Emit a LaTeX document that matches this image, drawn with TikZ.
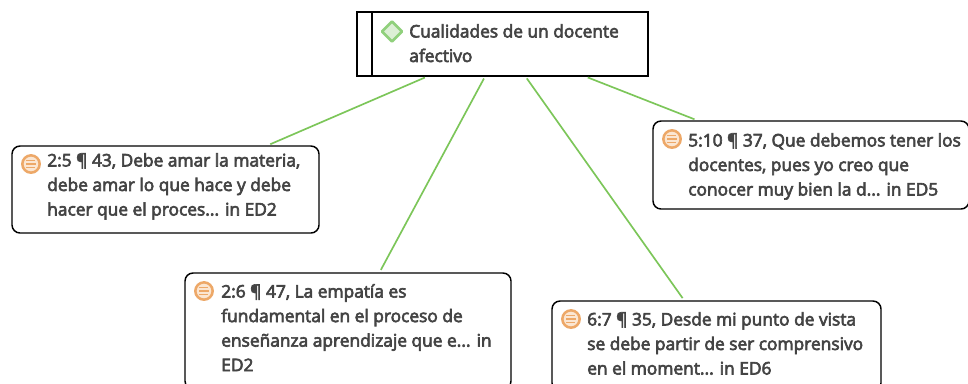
\documentclass[tikz,border=0pt]{standalone}
\usepackage{fontspec}
\setmainfont[FakeBold=3.6]{Open Sans}
\definecolor{txt}{HTML}{444444}
\definecolor{lnk}{HTML}{7CC659}
\definecolor{ico}{HTML}{EDA868}
\definecolor{icofill}{HTML}{FBE6D2}
\definecolor{dia}{HTML}{90D07C}
\definecolor{diafill}{HTML}{DCEFD5}
\newlength{\pxu}\setlength{\pxu}{0.75pt}
\tikzset{
  x=0.75pt,y=-0.75pt,
  card/.style={draw=black,line width=1.1pt,rounded corners=6pt,fill=white,inner sep=0pt},
  rootbox/.style={draw=black,line width=1.1pt,fill=white,inner sep=0pt},
  lbl/.style={anchor=north west,inner sep=0pt,align=left,text=txt,font=\fontsize{13}{18.4}\selectfont},
  conn/.style={draw=lnk,line width=1.25pt,shorten >=2pt,shorten <=1.5pt},
  codeicon/.style={circle,draw=ico,line width=1.9pt,fill=icofill,minimum size=13pt,inner sep=0pt},
  memo/.style={draw=ico,line width=1.2pt},
  diamondicon/.style={draw=dia,line width=2pt,fill=diafill,line join=round},
}
\newcommand{\codemark}[2]{%
  \node[codeicon] (#1) at (#2) {};
  \draw[memo] ([shift={(-5,-3.5)}]#1.center) -- ++(9,0);
  \draw[memo] ([shift={(-5,0)}]#1.center) -- ++(10,0);
  \draw[memo] ([shift={(-5,3.5)}]#1.center) -- ++(9,0);
}
\begin{document}
\begin{tikzpicture}
\useasboundingbox (0,0) rectangle (968,383);
\clip (0,0) rectangle (968,383);
\fill[white] (0,0) rectangle (968,383);
\node[rootbox,minimum width=291*\pxu,minimum height=64*\pxu] (root) at (502.5,44) {};
\node[card,minimum width=307*\pxu,minimum height=87*\pxu] (a) at (165.5,189.5) {};
\node[card,minimum width=326*\pxu,minimum height=116*\pxu] (b) at (348,331) {};
\node[card,minimum width=329*\pxu,minimum height=90*\pxu] (c) at (716.5,346) {};
\node[card,minimum width=316*\pxu,minimum height=88*\pxu] (d) at (811,165) {};
\coordinate (stripetop) at (372,12);
\coordinate (stripebot) at (372,76);
\draw[black,line width=1.1pt] (stripetop) -- (stripebot);
\draw[conn] (root) -- (a);
\draw[conn] (root) -- (b);
\draw[conn] (root) -- (c);
\draw[conn] (root) -- (d);
\draw[diamondicon] (392,21.5) -- (402,31.5) -- (392,41.5) -- (382,31.5) -- cycle;
\node[lbl] (roott) at (409,24) {Cualidades de un docente\\afectivo};
\codemark{ai}{31,164}
\node[lbl] (at) at (47,153) {2:5 ¶ 43, Debe amar la materia,\\debe amar lo que hace y debe\\hacer que el proces... in ED2};
\codemark{bi}{204,291}
\node[lbl] (bt) at (221,284) {2:6 ¶ 47, La empatía es\\fundamental en el proceso de\\enseñanza aprendizaje que e... in\\ED2};
\codemark{ci}{571,319}
\node[lbl] (ct) at (587,312) {6:7 ¶ 35, Desde mi punto de vista\\se debe partir de ser comprensivo\\en el moment... in ED6};
\codemark{di}{672,139}
\node[lbl] (dt) at (688,133) {5:10 ¶ 37, Que debemos tener los\\docentes, pues yo creo que\\conocer muy bien la d... in ED5};
\end{tikzpicture}
\end{document}
